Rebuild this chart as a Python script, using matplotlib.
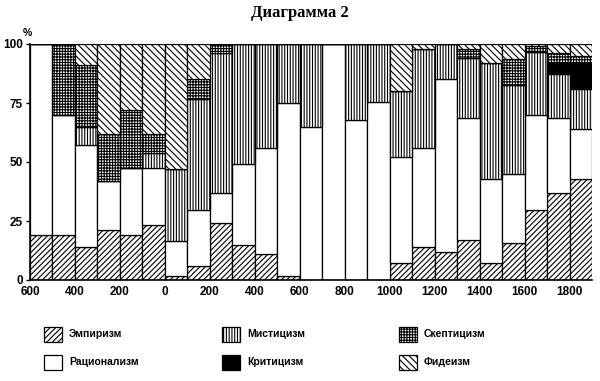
import matplotlib
matplotlib.use("Agg")
import matplotlib.pyplot as plt
from matplotlib.patches import Rectangle
import numpy as np

plt.rcParams['hatch.linewidth'] = 0.8
plt.rcParams['font.family'] = ['Liberation Sans', 'DejaVu Sans']

# Century periods (600 BC .. 1900 AD), one bar each
tick_labels = ['600', '400', '200', '0', '200', '400', '600', '800',
               '1000', '1200', '1400', '1600', '1800']
y_ticks = [0, 25, 50, 75, 100]

empirism    = [19, 19, 14, 21, 19, 23.5, 1.5, 6, 24, 15, 11, 1.5, 0, 0, 0, 0,
               7, 14, 12, 17, 7, 15.5, 29.5, 37, 43]
rationalism = [81, 51, 43, 21, 28.5, 24, 15, 23.5, 13, 34, 45, 73.5, 65, 100, 68, 75.5,
               45, 42, 73, 51.5, 36, 29.5, 40.5, 31.5, 21]
mysticism   = [0, 0, 8, 0, 0, 6.5, 30.5, 47, 59, 51, 44, 25, 35, 0, 32, 24.5,
               28, 42, 15, 25.5, 49, 37.5, 26.5, 19, 17]
criticism   = [0, 0, 0, 0, 0, 0, 0, 0, 0, 0, 0, 0, 0, 0, 0, 0,
               0, 0, 0, 0, 0, 0, 0, 4.5, 11]
scepticism  = [0, 30, 26, 20, 24.5, 8, 0, 8.5, 4, 0, 0, 0, 0, 0, 0, 0,
               0, 0, 0, 4, 0, 11, 2.5, 4, 3]
fideism     = [0, 0, 9, 38, 28, 38, 53, 15, 0, 0, 0, 0, 0, 0, 0, 0,
               20, 2, 0, 2, 8, 6.5, 1, 4, 5]

series = [
    ('Эмпиризм', empirism, dict(facecolor='white', hatch='//////')),
    ('Рационализм', rationalism, dict(facecolor='white', hatch='')),
    ('Мистицизм', mysticism, dict(facecolor='white', hatch='||||||')),
    ('Критицизм', criticism, dict(facecolor='black', hatch='')),
    ('Скептицизм', scepticism, dict(facecolor='white', hatch='++++++')),
    ('Фидеизм', fideism, dict(facecolor='white', hatch='\\\\\\\\\\')),
]

fig = plt.figure(figsize=(6.0, 3.81), dpi=100)
ax = fig.add_axes([30/600, 1-280/381, 562/600, 236/381])

n = len(empirism)
x = np.arange(n)
bottom = np.zeros(n)
for name, vals, st in series:
    v = np.array(vals, dtype=float)
    ax.bar(x, v, width=1.0, bottom=bottom, align='edge', edgecolor='black',
           linewidth=0.9, **st)
    bottom += v

ax.set_xlim(0, n)
ax.set_ylim(0, 100)
ax.set_xticks(np.arange(0, n, 2))
ax.set_xticklabels(tick_labels, fontsize=8.5, fontweight='bold')
ax.set_yticks(y_ticks)
ax.set_yticklabels([str(t) for t in y_ticks], fontsize=8.5, fontweight='bold')
ax.tick_params(axis='x', length=0, pad=4)
ax.tick_params(axis='y', length=3, width=1, pad=2)
for s in ['top', 'right']:
    ax.spines[s].set_visible(False)
for s in ['left', 'bottom']:
    ax.spines[s].set_linewidth(1.2)

fig.text(27/600, 1-33/381, '%', fontsize=7.5, fontweight='bold', ha='center', va='center')
fig.text(0.5, 1-13/381, 'Диаграмма 2', fontsize=12, fontweight='bold',
         family=['Liberation Serif', 'DejaVu Serif'], ha='center', va='center')

# legend, drawn manually in figure pixels
col_x = [44, 222, 399]
row_y = [334, 362]
order = [0, 2, 4, 1, 3, 5]
for k, idx in enumerate(order):
    name, vals, st = series[idx]
    cx = col_x[k % 3]
    cy = row_y[k // 3]
    w, h = 18, 15
    rect = Rectangle((cx/600, 1-(cy+h/2)/381), w/600, h/381, transform=fig.transFigure,
                     edgecolor='black', linewidth=0.9, **st)
    fig.add_artist(rect)
    fig.text((cx+w+7)/600, 1-cy/381, name, fontsize=7.5, fontweight='bold',
             ha='left', va='center')

fig.savefig('out.png', dpi=100)
